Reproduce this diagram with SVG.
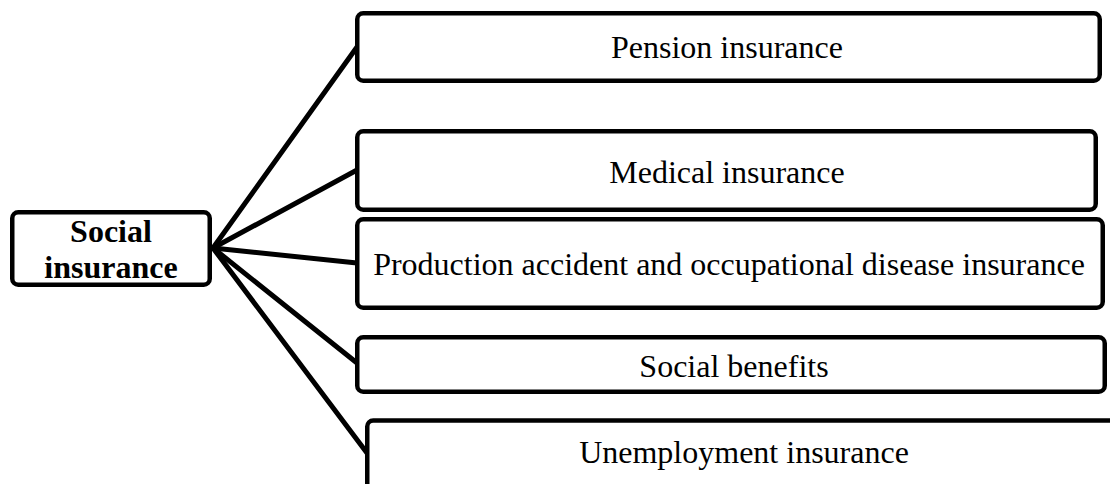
<svg xmlns="http://www.w3.org/2000/svg" width="1110" height="484" viewBox="0 0 1110 484">
<style>
.box{fill:#fff;stroke:#000;stroke-width:4.5}
.conn{stroke:#000;stroke-width:5;fill:none;stroke-linecap:round}
.t{font-family:"Liberation Serif","Times New Roman",serif;font-size:32px;fill:#000;text-anchor:middle}
.b{font-weight:bold}
</style>
<rect width="1110" height="484" fill="#fff"/>
<g id="connectors">
<line class="conn" x1="213" y1="248" x2="357" y2="47"/>
<line class="conn" x1="213" y1="248" x2="357" y2="170"/>
<line class="conn" x1="213" y1="248" x2="357" y2="263"/>
<line class="conn" x1="213" y1="248" x2="357" y2="363"/>
<line class="conn" x1="213" y1="248" x2="367" y2="453"/>
</g>
<g id="social-insurance">
<rect class="box" x="12.25" y="212.25" width="197.5" height="72.5" rx="6"/>
<text class="t b" x="111" y="242">Social</text>
<text class="t b" x="111" y="278">insurance</text>
</g>
<g id="pension">
<rect class="box" x="357.25" y="13.25" width="742.5" height="67.5" rx="6"/>
<text class="t" x="727" y="58">Pension insurance</text>
</g>
<g id="medical">
<rect class="box" x="357.25" y="131.25" width="738.5" height="78.5" rx="6"/>
<text class="t" x="727" y="183">Medical insurance</text>
</g>
<g id="production">
<rect class="box" x="357.25" y="219.25" width="745.5" height="88.5" rx="6"/>
<text class="t" x="729" y="275">Production accident and occupational disease insurance</text>
</g>
<g id="social-benefits">
<rect class="box" x="357.25" y="337.25" width="747.5" height="54.5" rx="6"/>
<text class="t" x="734" y="377">Social benefits</text>
</g>
<g id="unemployment">
<rect class="box" x="367.25" y="420.5" width="800" height="120" rx="6"/>
<text class="t" x="744" y="463">Unemployment insurance</text>
</g>
</svg>
